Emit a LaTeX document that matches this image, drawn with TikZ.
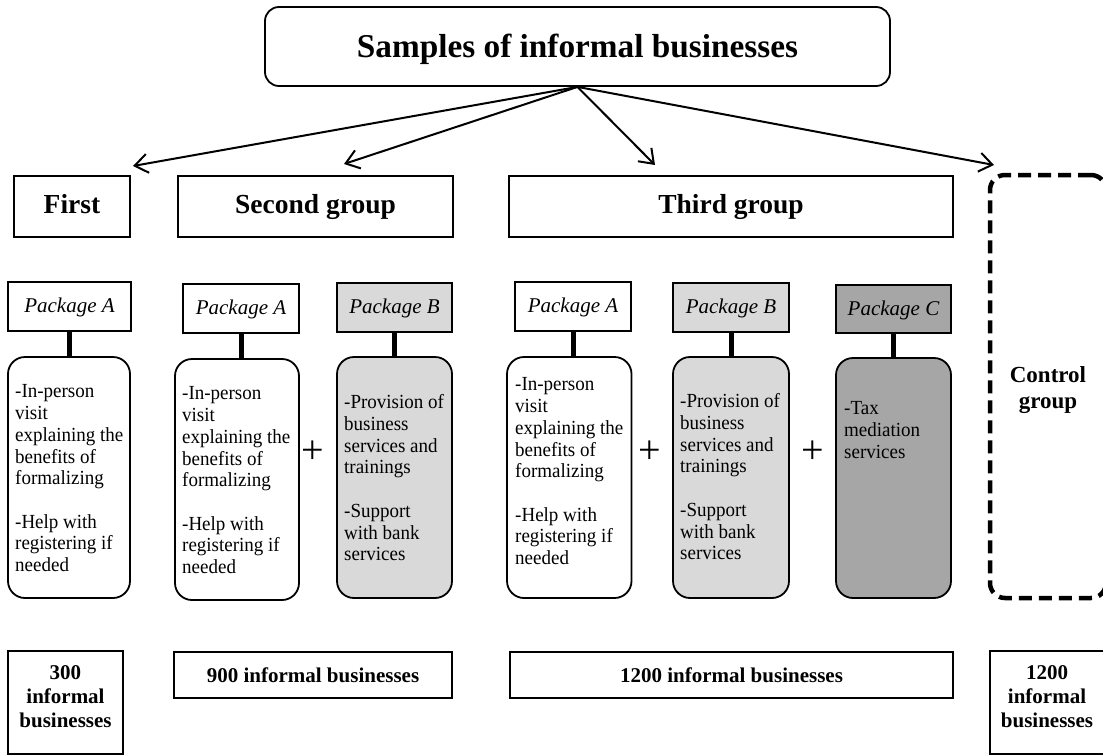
\documentclass[tikz,border=0pt]{standalone}
\usepackage{fontspec}
\setmainfont{Liberation Serif}
\newfontfamily\detfont[FakeStretch=0.95]{Liberation Serif}
\usetikzlibrary{arrows.meta}
\definecolor{pkgB}{RGB}{217,217,217}
\definecolor{pkgC}{RGB}{166,166,166}
\begin{document}
\begin{tikzpicture}[x=1pt,y=-1pt,
  boxline/.style={draw=black, line width=1.8pt, inner sep=0pt},
  titlebox/.style={boxline, rounded corners=14pt, font=\fontsize{33.3}{40}\selectfont\bfseries, text height=24pt, text depth=2.4pt},
  grpbox/.style={boxline, font=\fontsize{27.5}{30}\selectfont\bfseries, text height=19pt, text depth=6pt},
  pkgbox/.style={boxline, font=\fontsize{21}{24}\selectfont\itshape, text height=14.5pt, text depth=2.5pt},
  detbox/.style={boxline, rounded corners=17pt},
  dettext/.style={anchor=north west, inner sep=0pt, align=left, font=\detfont\fontsize{20}{21.7}\selectfont},
  stub/.style={line width=5pt},
  arr/.style={line width=2pt, -{Straight Barb[length=13pt,width=19pt]}},
  plussign/.style={inner sep=0pt, font=\fontsize{40}{40}\selectfont},
  ctrlbox/.style={draw=black, line width=4.5pt, dash pattern=on 13pt off 7pt, rounded corners=15pt, inner sep=0pt},
  ctrltext/.style={anchor=north, inner sep=0pt, align=center, font=\fontsize{23}{26}\selectfont\bfseries},
  botbox/.style={boxline, font=\fontsize{21}{24}\selectfont\bfseries, text height=14.3pt, text depth=0pt},
  bottext/.style={anchor=north, inner sep=0pt, align=center, font=\fontsize{21}{24}\selectfont\bfseries}
]
\path[use as bounding box] (0,0) rectangle (1103,755);
\fill[white] (0,0) rectangle (1103,755);
\clip (0,0) rectangle (1103,755);

% title
\node[titlebox, minimum width=625pt, minimum height=79pt] (title) at (577.5,46.5) {Samples of informal businesses};

% groups
\node[grpbox, minimum width=116pt, minimum height=61pt] (g1) at (72,206.5) {First};
\node[grpbox, minimum width=275pt, minimum height=61pt] (g2) at (315.5,206.5) {Second group};
\node[grpbox, minimum width=444pt, minimum height=61pt] (g3) at (731,206.5) {Third group};
\node[ctrlbox, minimum width=116pt, minimum height=423pt] (ctrl) at (1048,386.5) {};
\node[ctrltext] (ctrlt) at (1048,366.3) {Control\\group};

% arrows
\coordinate (tip1) at (133,166);
\coordinate (tip2) at (344,164);
\coordinate (tip3) at (655,165);
\coordinate (tip4) at (994,165);
\draw[arr] (title.south) -- (tip1);
\draw[arr] (title.south) -- (tip2);
\draw[arr] (title.south) -- (tip3);
\draw[arr] (title.south) -- (tip4);

% packages
\node[pkgbox, minimum width=123pt, minimum height=49pt] (pa1) at (69.5,306.5) {Package A};
\node[pkgbox, minimum width=116pt, minimum height=49pt] (pa2) at (241,308.5) {Package A};
\node[pkgbox, fill=pkgB, minimum width=115pt, minimum height=49pt] (pb2) at (394.5,307.5) {Package B};
\node[pkgbox, minimum width=116.5pt, minimum height=49pt] (pa3) at (573,306.5) {Package A};
\node[pkgbox, fill=pkgB, minimum width=116pt, minimum height=49pt] (pb3) at (731,307.5) {Package B};
\node[pkgbox, fill=pkgC, minimum width=115pt, minimum height=48pt] (pc3) at (893.5,309) {Package C};

% detail boxes
\node[detbox, minimum width=122pt, minimum height=241pt] (da1) at (69,477.5) {};
\node[detbox, minimum width=124pt, minimum height=241pt] (da2) at (237,479.5) {};
\node[detbox, fill=pkgB, minimum width=115pt, minimum height=241pt] (db2) at (394.5,477.5) {};
\node[detbox, minimum width=124.5pt, minimum height=241pt] (da3) at (569.25,477.5) {};
\node[detbox, fill=pkgB, minimum width=116pt, minimum height=241pt] (db3) at (731,477.5) {};
\node[detbox, fill=pkgC, minimum width=115pt, minimum height=240pt] (dc3) at (893.5,478) {};

% stubs
\draw[stub] (pa1.south) -- (pa1.south |- da1.north);
\draw[stub] (pa2.south) -- (pa2.south |- da2.north);
\draw[stub] (pb2.south) -- (pb2.south |- db2.north);
\draw[stub] (pa3.south) -- (pa3.south |- da3.north);
\draw[stub] (pb3.south) -- (pb3.south |- db3.north);
\draw[stub] (pc3.south) -- (pc3.south |- dc3.north);

% detail texts
\node[dettext] (ta1) at (15,384.6) {-In-person\\visit\\explaining the\\benefits of\\formalizing\\[21.7pt]-Help with\\registering if\\needed};
\node[dettext] (ta2) at (182,386.6) {-In-person\\visit\\explaining the\\benefits of\\formalizing\\[21.7pt]-Help with\\registering if\\needed};
\node[dettext] (tb2) at (344,394.6) {-Provision of\\business\\services and\\trainings\\[21.7pt]-Support\\with bank\\services};
\node[dettext] (ta3) at (515,377.6) {-In-person\\visit\\explaining the\\benefits of\\formalizing\\[21.7pt]-Help with\\registering if\\needed};
\node[dettext] (tb3) at (680,393.6) {-Provision of\\business\\services and\\trainings\\[21.7pt]-Support\\with bank\\services};
\node[dettext] (tc3) at (844,401.6) {-Tax\\mediation\\services};

% plus signs
\node[plussign] (plus1) at (313,452) {+};
\node[plussign] (plus2) at (650,452) {+};
\node[plussign] (plus3) at (812.5,452) {+};

% bottom boxes
\node[botbox, minimum width=115pt, minimum height=103pt] (b300) at (65.5,702.5) {};
\node[bottext] (b300t) at (65.5,665.8) {300\\informal\\businesses};
\node[botbox, minimum width=278pt, minimum height=46pt] (b900) at (313,675) {900 informal businesses};
\node[botbox, minimum width=443pt, minimum height=46pt] (b1200) at (731.5,675) {1200 informal businesses};
\node[botbox, minimum width=116pt, minimum height=103pt] (b1200c) at (1048,702.5) {};
\node[bottext] (b1200ct) at (1047,665.8) {1200\\informal\\businesses};
\end{tikzpicture}
\end{document}
